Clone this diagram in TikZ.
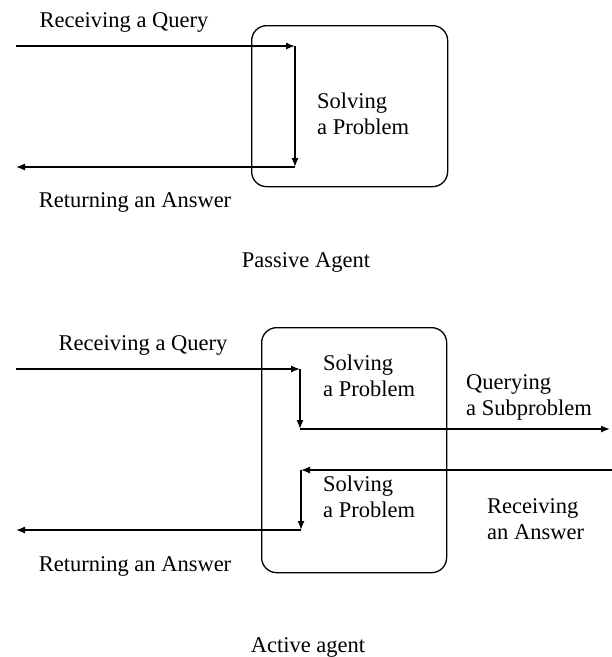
\documentclass[tikz,border=0pt]{standalone}
\usepackage{fontspec}
\setmainfont{Liberation Serif}
\usetikzlibrary{arrows.meta}
\tikzset{
  agentbox/.style={draw, line width=1.3pt, rounded corners=15pt},
  flow/.style={line width=1.3pt, -{Latex[length=9pt,width=7pt]}},
  flowplain/.style={line width=1.3pt},
  lbl/.style={font=\fontsize{22.5}{26}\selectfont, inner sep=0pt},
}
\begin{document}
\begin{tikzpicture}[x=1pt,y=-1pt]
\useasboundingbox (0,0) rectangle (612,657);

% ---------- passive agent ----------
\node[agentbox, minimum width=196pt, minimum height=161pt, anchor=north west] (pbox) at (251,25) {};
\coordinate (pin) at (16,46);
\coordinate (pturn) at (295,46);
\coordinate (pdown) at (295,167);
\coordinate (pout) at (16,167);
\draw[flow] (pin) -- (pturn);
\draw[flow] (pturn) -- (pdown);
\draw[flow] (pdown) -- (pout);
\node[lbl] (pquery) at (124,22) {Receiving a Query};
\node[lbl, anchor=west, align=left] (psolve) at (317,114) {Solving\\a Problem};
\node[lbl] (panswer) at (135,202) {Returning an Answer};
\node[lbl] (ptitle) at (306,262) {Passive Agent};

% ---------- active agent ----------
\node[agentbox, minimum width=185pt, minimum height=245pt, anchor=north west] (abox) at (261,327) {};
\coordinate (ain) at (16,369);
\coordinate (aturn) at (300,369);
\coordinate (adown) at (300,429);
\coordinate (aout) at (610,429);
\draw[flow] (ain) -- (aturn);
\draw[flow] (aturn) -- (adown);
\draw[flow] (adown) -- (aout);
\coordinate (bin) at (612,470);
\coordinate (bturn) at (301,470);
\coordinate (bdown) at (301,530);
\coordinate (bout) at (16,530);
\draw[flow] (bin) -- (bturn);
\draw[flow] (bturn) -- (bdown);
\draw[flow] (bdown) -- (bout);
\node[lbl] (aquery) at (143,345) {Receiving a Query};
\node[lbl, anchor=west, align=left] (asolve1) at (323,376) {Solving\\a Problem};
\node[lbl, anchor=west, align=left] (asolve2) at (323,497) {Solving\\a Problem};
\node[lbl, anchor=west, align=left] (asub) at (466,397) {Querying\\a Subproblem};
\node[lbl, anchor=west, align=left] (arecv) at (487,519) {Receiving\\an Answer};
\node[lbl] (aanswer) at (135,566) {Returning an Answer};
\node[lbl] (atitle) at (308,647) {Active agent};
\end{tikzpicture}
\end{document}
